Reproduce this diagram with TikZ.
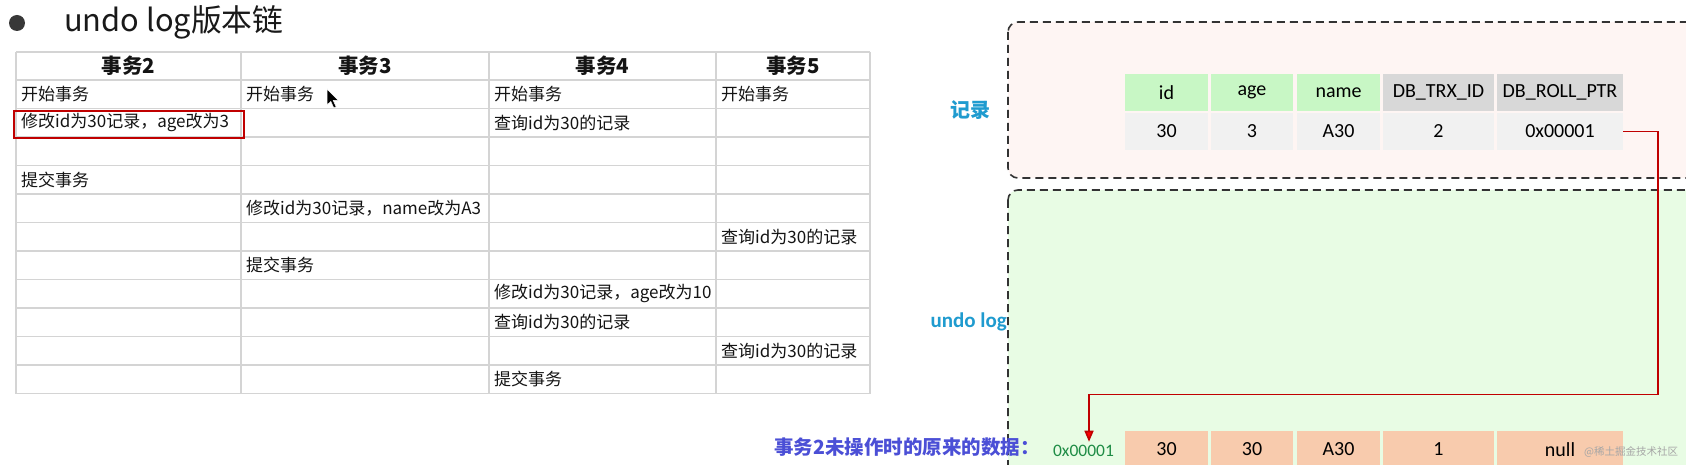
\documentclass[tikz,border=0pt]{standalone}
\usepackage{fontspec}
\setmainfont{Noto Sans CJK SC}
\newfontfamily\calibri{Carlito}
\usetikzlibrary{arrows.meta, positioning}

\definecolor{gridgray}{HTML}{D4D4D4}
\definecolor{markred}{HTML}{C00000}
\definecolor{labelblue}{HTML}{1F9BCF}
\definecolor{noteblue}{HTML}{4B4FD6}
\definecolor{addrgreen}{HTML}{1E8C45}
\definecolor{recfill}{HTML}{FEF5F3}
\definecolor{logfill}{HTML}{E8FCE4}
\definecolor{colgreen}{HTML}{C8F7C5}
\definecolor{colgray}{HTML}{D8D8D8}
\definecolor{rowgray}{HTML}{F1F1F1}
\definecolor{rowpeach}{HTML}{F8CBAD}

\tikzset{
  cell/.style={inner sep=0pt, anchor=west, font=\fontsize{17}{18}\selectfont, text=black!92},
  headcell/.style={inner sep=0pt, font=\fontsize{20.5}{21}\selectfont\bfseries, text=black!92},
  fieldbox/.style={minimum height=37pt, inner sep=0pt, font=\calibri\fontsize{20}{22}\selectfont},
  areabox/.style={draw=black!80, line width=1.6pt, dash pattern=on 8pt off 5pt, rounded corners=10pt},
  ptr/.style={draw=markred, line width=1.6pt, -{Triangle[length=11pt,width=9pt,fill=red]}},
}

\begin{document}
\begin{tikzpicture}[x=1pt, y=-1pt]
	\fill[white] (0,0) rectangle (1686,465);
	\useasboundingbox (0,0) rectangle (1686,465);
	\clip (0,0) rectangle (1686,465);

	% Titel
	\fill[black!78] (17,23) circle (8pt);
	\node[anchor=base west, inner sep=0pt, font=\fontsize{30.8}{31}\selectfont, text=black!90] (title) at (64,32) {undo log版本链};

	% Tabelle der Transaktionen
	\foreach \y in {52,80,108.5,137,165.5,194,222.5,251,279.5,308,336.5,365,393.5}
		\draw[gridgray, line width=1.5pt] (16,\y) -- (870,\y);
	\foreach \x in {16,241,489,716,870}
		\draw[gridgray, line width=1.5pt] (\x,52) -- (\x,393.5);
	\foreach \x/\txt in {128.5/事务2, 365/事务3, 602.5/事务4, 793/事务5}
		\node[headcell] (head-\txt) at (\x,66) {\txt};
	\foreach \r/\x/\txt in {1/21/开始事务, 1/246/开始事务, 1/494/开始事务, 1/721/开始事务,
			2/21/修改id为30记录，age改为3, 2/494/查询id为30的记录,
			4/21/提交事务,
			5/246/修改id为30记录，name改为A3,
			6/721/查询id为30的记录,
			7/246/提交事务,
			8/494/修改id为30记录，age改为10,
			9/494/查询id为30的记录,
			10/721/查询id为30的记录,
			11/494/提交事务}
		\node[cell] (t-\r-\x) at (\x,{80+28.5*(\r-0.5)}) {\txt};
	\draw[markred, line width=2pt] (14,111.5) rectangle (243.5,138);

	% Mauszeiger
	\fill[black, draw=white, line width=0.5pt] (327,89) -- ++(0,16) -- ++(3.8,-3.6) -- ++(3,6.5)
		-- ++(2.4,-1.1) -- ++(-3,-6.3) -- ++(5.2,0) -- cycle;

	% Datensatz und undo log
	\draw[areabox, fill=recfill] (1008,22) rectangle (1730,178);
	\draw[areabox, fill=logfill] (1008,190) rectangle (1730,520);
	\node[font=\bfseries\fontsize{20}{20}\selectfont, text=labelblue] (reclabel) at (970,110) {记录};
	\node[font=\calibri\bfseries\fontsize{21}{21}\selectfont, text=labelblue, anchor=east, inner sep=0pt] (loglabel) at (1007,322) {undo log};

	\foreach \n/\cx/\w/\hc/\hd/\val/\old in {id/1166.5/83/colgreen/id/30/30,
			age/1252/82/colgreen/age/3/30,
			name/1338.5/83/colgreen/name/A30/A30,
			trx/1438.5/111/colgray/DB\_TRX\_ID/2/1,
			roll/1560/126/colgray/DB\_ROLL\_PTR/0x00001/null}
	{
		\node[fieldbox, fill=\hc, minimum width=\w pt] (h-\n) at (\cx,92.5) {\hd};
		\node[fieldbox, fill=rowgray, minimum width=\w pt] (r-\n) at (\cx,131.5) {\val};
		\node[fieldbox, fill=rowpeach, minimum width=\w pt] (u-\n) at (\cx,449.5) {\old};
	}
	\node[font=\calibri\fontsize{17.5}{18}\selectfont, text=addrgreen] (u-addr) at (1083.5,451) {0x00001};
	\node[font=\bfseries\fontsize{19.5}{20}\selectfont, text=noteblue, anchor=east, inner sep=0pt] (u-note) at (1040,447) {事务2未操作时的原来的数据：};
	\node[font=\fontsize{10.5}{11}\selectfont, text=gray!70, anchor=west, inner sep=0pt] (mark) at (1584,452) {@稀土掘金技术社区};

	\draw[ptr] (r-roll.east) -- ++(35,0) |- (1089,394.5) -- ([xshift=5.5pt]u-addr.north);
\end{tikzpicture}
\end{document}
